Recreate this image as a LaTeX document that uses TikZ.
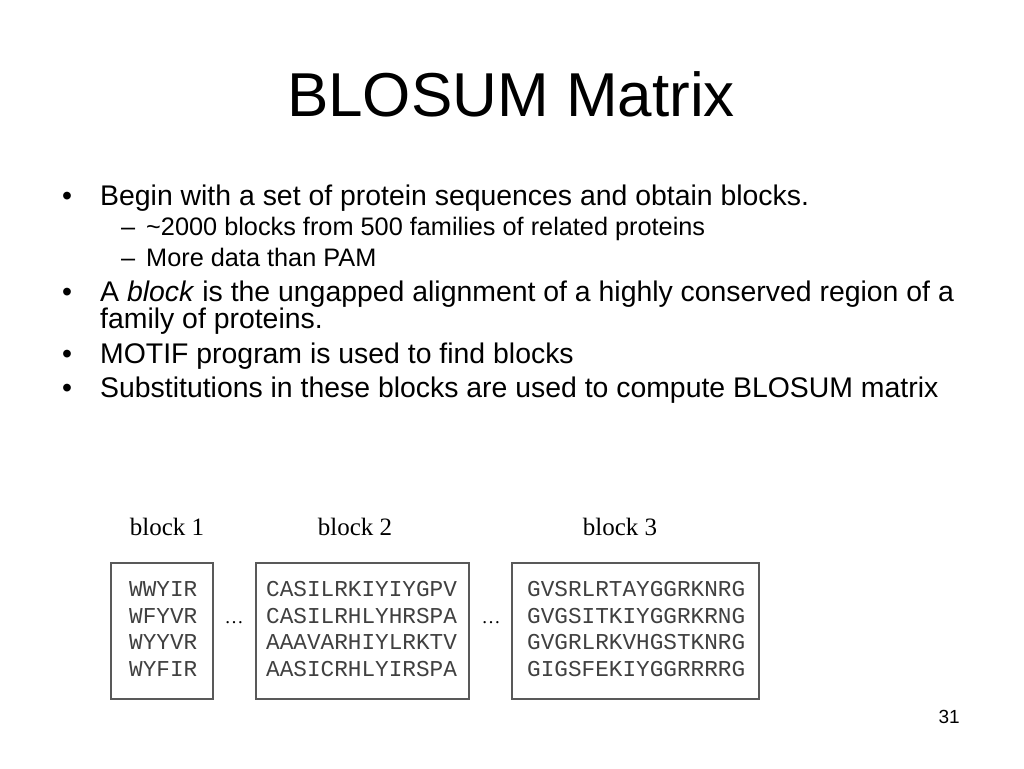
\documentclass[tikz,border=0pt]{standalone}
\usepackage{fontspec}
\setmainfont{Liberation Sans}
\newfontfamily\serifL{Liberation Serif}
\newfontfamily\monoL{Liberation Mono}
\begin{document}
\begin{tikzpicture}[x=1pt,y=-1pt,
  title/.style={anchor=base,inner sep=0pt,font=\fontsize{62}{70}\selectfont},
  lvlone/.style={anchor=base west,inner sep=0pt,font=\fontsize{28.4}{34}\selectfont},
  lvltwo/.style={anchor=base west,inner sep=0pt,font=\fontsize{25.3}{30}\selectfont},
  blabel/.style={anchor=base,inner sep=0pt,font=\serifL\fontsize{25}{28}\selectfont},
  seqbox/.style={draw=black!65,line width=1.2pt,fill=white},
  seq/.style={anchor=base west,inner sep=0pt,text=black!75,font=\monoL\fontsize{22.7}{26}\selectfont},
  dots/.style={anchor=base,inner sep=0pt,font=\serifL\fontsize{19}{24}\selectfont},
  pnum/.style={anchor=base east,inner sep=0pt,font=\fontsize{19}{22}\selectfont}]
\useasboundingbox (0,0) rectangle (1024,768);
\fill[white] (0,0) rectangle (1024,768);
\node[title] (t) at (511,116) {BLOSUM Matrix};
% bullets
\node[lvlone] (b1m) at (62,205) {•};
\node[lvlone] (b1) at (100,205) {Begin with a set of protein sequences and obtain blocks.};
\node[lvltwo] (s1m) at (121,235) {–};
\node[lvltwo] (s1) at (146,235) {\textasciitilde2000 blocks from 500 families of related proteins};
\node[lvltwo] (s2m) at (121,266) {–};
\node[lvltwo] (s2) at (146,266) {More data than PAM};
\node[lvlone] (b2m) at (62,301) {•};
\node[lvlone] (b2) at (100,301) {A \textit{block} is the ungapped alignment of a highly conserved region of a};
\node[lvlone] (b2b) at (100,328) {family of proteins.};
\node[lvlone] (b3m) at (62,363) {•};
\node[lvlone] (b3) at (100,363) {MOTIF program is used to find blocks};
\node[lvlone] (b4m) at (62,397) {•};
\node[lvlone] (b4) at (100,397) {Substitutions in these blocks are used to compute BLOSUM matrix};
% block labels
\node[blabel] (l1) at (167,535) {block 1};
\node[blabel] (l2) at (355,535) {block 2};
\node[blabel] (l3) at (620,535) {block 3};
% boxes
\draw[seqbox] (111,563) rectangle (213,699);
\draw[seqbox] (256,563) rectangle (469,699);
\draw[seqbox] (512,563) rectangle (759,699);
\node[seq] (a1) at (129,596.5) {WWYIR};
\node[seq] (a2) at (129,623) {WFYVR};
\node[seq] (a3) at (129,649.5) {WYYVR};
\node[seq] (a4) at (129,676) {WYFIR};
\node[seq] (c1) at (266,596.5) {CASILRKIYIYGPV};
\node[seq] (c2) at (266,623) {CASILRHLYHRSPA};
\node[seq] (c3) at (266,649.5) {AAAVARHIYLRKTV};
\node[seq] (c4) at (266,676) {AASICRHLYIRSPA};
\node[seq] (g1) at (527,596.5) {GVSRLRTAYGGRKNRG};
\node[seq] (g2) at (527,623) {GVGSITKIYGGRKRNG};
\node[seq] (g3) at (527,649.5) {GVGRLRKVHGSTKNRG};
\node[seq] (g4) at (527,676) {GIGSFEKIYGGRRRRG};
\node[dots] (d1) at (234,623) {…};
\node[dots] (d2) at (491,623) {…};
\node[pnum] (pn) at (960,723) {31};
\end{tikzpicture}
\end{document}
